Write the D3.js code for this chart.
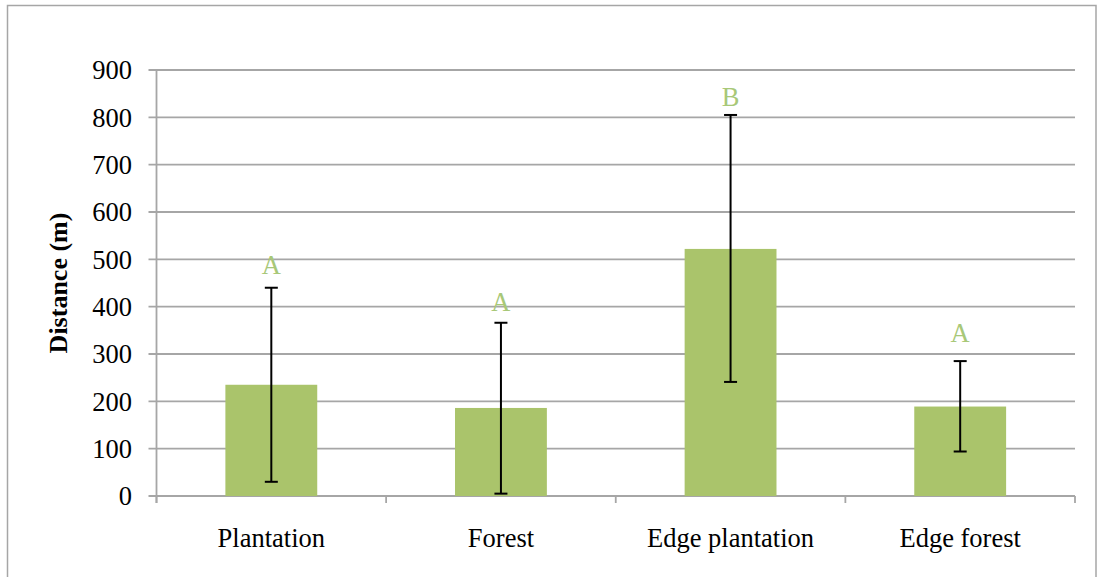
<!DOCTYPE html>
<html><head><meta charset="utf-8">
<script src="https://cdn.jsdelivr.net/npm/d3@7"></script>
<style>body{margin:0;background:#fff}svg{display:block}</style>
</head><body>
<script>
const categories = ["Plantation", "Forest", "Edge plantation", "Edge forest"];
const means = [235, 186, 522, 189];
const errLow = [30, 5, 241, 94];
const errHigh = [440, 366, 805, 285];
const letters = ["A", "A", "B", "A"];
const letterAt = [469, 390, 824, 325];
const yTicks = [0, 100, 200, 300, 400, 500, 600, 700, 800, 900];

(function () {
const W = 1097, H = 577;
const svg = d3.select("body").append("svg").attr("width", W).attr("height", H);
svg.append("rect").attr("x", 7.5).attr("y", 5.5).attr("width", 1088.5).attr("height", 600)
  .attr("fill", "#fff").attr("stroke", "#a6a6a6").attr("stroke-width", 1.5);

const pL = 156.5, pR = 1075, pT = 70, pB = 496;
const x = d3.scaleBand().domain(categories).range([pL, pR]).paddingInner(0.6).paddingOuter(0.3);
const xb = d3.scaleBand().domain(categories).range([pL, pR]);
const y = d3.scaleLinear().domain([0, 900]).range([pB, pT]);
const font = "'Liberation Serif','Times New Roman',serif";
const grid = "#a6a6a6";

svg.append("g").selectAll("line").data(yTicks).join("line")
  .attr("x1", pL - 8).attr("x2", pR).attr("y1", d => y(d)).attr("y2", d => y(d))
  .attr("stroke", grid).attr("stroke-width", 1.8);
svg.append("g").selectAll("text").data(yTicks).join("text")
  .attr("x", 132).attr("y", d => y(d)).attr("dy", "0.35em").attr("text-anchor", "end")
  .attr("font-family", font).attr("font-size", 26.5).attr("fill", "#000").text(d => d);
svg.append("line").attr("x1", pL).attr("x2", pL).attr("y1", pT).attr("y2", pB + 7)
  .attr("stroke", grid).attr("stroke-width", 1.8);
const bounds = categories.map(c => xb(c)).concat([pR]);
svg.append("g").selectAll("line").data(bounds).join("line")
  .attr("x1", d => d).attr("x2", d => d).attr("y1", pB).attr("y2", pB + 7)
  .attr("stroke", grid).attr("stroke-width", 1.8);

svg.append("g").selectAll("rect").data(categories).join("rect")
  .attr("x", c => x(c)).attr("width", x.bandwidth())
  .attr("y", (c, i) => y(means[i])).attr("height", (c, i) => y(0) - y(means[i]))
  .attr("fill", "#aac46b");

const eg = svg.append("g").attr("stroke", "#000").attr("stroke-width", 2);
categories.forEach((c, i) => {
  const cx = x(c) + x.bandwidth() / 2;
  eg.append("line").attr("x1", cx).attr("x2", cx).attr("y1", y(errLow[i])).attr("y2", y(errHigh[i]));
  [errLow[i], errHigh[i]].forEach(v => {
    eg.append("line").attr("x1", cx - 6.5).attr("x2", cx + 6.5).attr("y1", y(v)).attr("y2", y(v));
  });
});

svg.append("g").selectAll("text").data(categories).join("text")
  .attr("x", c => x(c) + x.bandwidth() / 2).attr("y", (c, i) => y(letterAt[i]))
  .attr("text-anchor", "middle").attr("font-family", font).attr("font-size", 26.5)
  .attr("fill", "#a8c878").text((c, i) => letters[i]);

svg.append("g").selectAll("text").data(categories).join("text")
  .attr("x", c => xb(c) + xb.bandwidth() / 2).attr("y", 547)
  .attr("text-anchor", "middle").attr("font-family", font).attr("font-size", 26.5)
  .attr("fill", "#000").text(c => c);

svg.append("text").attr("transform", "translate(67," + ((pT + pB) / 2) + ") rotate(-90)")
  .attr("text-anchor", "middle").attr("font-family", font).attr("font-size", 26)
  .attr("font-weight", "bold").text("Distance (m)");
})();
</script>
</body></html>
